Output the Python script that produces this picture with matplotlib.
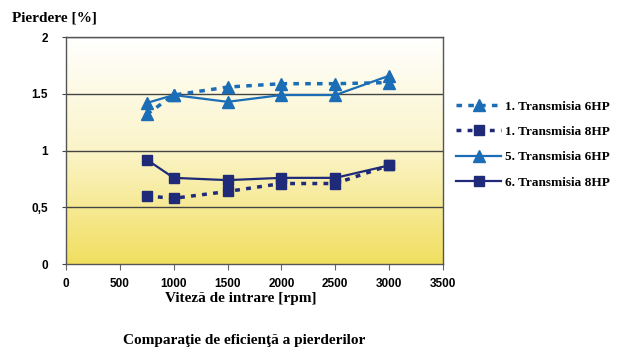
import numpy as np
import matplotlib.pyplot as plt
from matplotlib.colors import LinearSegmentedColormap

# date
viteza = [750, 1000, 1500, 2000, 2500, 3000]
t6hp_1 = [1.32, 1.49, 1.56, 1.59, 1.59, 1.60]
t8hp_1 = [0.60, 0.58, 0.64, 0.71, 0.71, 0.87]
t6hp_5 = [1.42, 1.49, 1.43, 1.49, 1.49, 1.66]
t8hp_6 = [0.92, 0.76, 0.74, 0.76, 0.76, 0.87]

yticks = [0, 0.5, 1, 1.5, 2]
ylabels = ['0', '0,5', '1', '1.5', '2']
xticks = [0, 500, 1000, 1500, 2000, 2500, 3000, 3500]

albastru = '#1b6db5'
bleumarin = '#1f2a78'

fig = plt.figure(figsize=(6.17, 3.54), dpi=100)
ax = fig.add_axes([0.107, 0.254, 0.611, 0.641])

# fundal degrade alb (sus) -> galben (jos)
cmap = LinearSegmentedColormap.from_list('fundal', ['#fffffe', '#fbf4c8', '#f1df60'])
grad = np.linspace(0, 1, 256).reshape(-1, 1)
ax.imshow(grad, cmap=cmap, aspect='auto', extent=[0, 3500, 0, 2],
          origin='upper', zorder=0)

for y in [0.5, 1, 1.5, 2]:
    ax.axhline(y, color='#444444', lw=1.0, zorder=1)

ax.plot(viteza, t6hp_1, color=albastru, lw=2.5, dashes=(1.6, 1.8), marker='^',
        ms=9, label='1. Transmisia 6HP', zorder=3)
ax.plot(viteza, t8hp_1, color=bleumarin, lw=2.5, dashes=(1.4, 1.8), marker='s',
        ms=7.5, label='1. Transmisia 8HP', zorder=3)
ax.plot(viteza, t6hp_5, color=albastru, lw=1.6, marker='^', ms=9,
        label='5. Transmisia 6HP', zorder=3)
ax.plot(viteza, t8hp_6, color=bleumarin, lw=1.6, marker='s', ms=7.5,
        label='6. Transmisia 8HP', zorder=3)

ax.set_xlim(0, 3500)
ax.set_ylim(0, 2)
ax.set_xticks(xticks)
ax.set_yticks(yticks)
ax.set_yticklabels(ylabels)
for lab in ax.get_xticklabels() + ax.get_yticklabels():
    lab.set_fontfamily('Liberation Sans')
    lab.set_fontweight('bold')
    lab.set_fontsize(8.5)
ax.tick_params(axis='x', length=4, color='#666666', pad=6)
ax.tick_params(axis='y', length=3, color='#444444', pad=10)
for s in ax.spines.values():
    s.set_color('#555555')
    s.set_linewidth(1.0)

serif = 'Liberation Serif'
fig.text(0.019, 0.95, 'Pierdere [%]', fontfamily=serif, fontweight='bold',
         fontsize=11, va='center')
fig.text(0.39, 0.158, 'Viteză de intrare [rpm]', fontfamily=serif, fontweight='bold',
         fontsize=11, ha='center', va='center')
fig.text(0.395, 0.038, 'Comparaţie de eficienţă a pierderilor', fontfamily=serif,
         fontweight='bold', fontsize=11, ha='center', va='center')

leg = fig.legend(loc='upper left', bbox_to_anchor=(0.72, 0.75), frameon=False,
                 prop={'family': serif, 'weight': 'bold', 'size': 9.5},
                 handlelength=3.4, labelspacing=1.0, handletextpad=0.3)

fig.savefig('out.png', dpi=100)
